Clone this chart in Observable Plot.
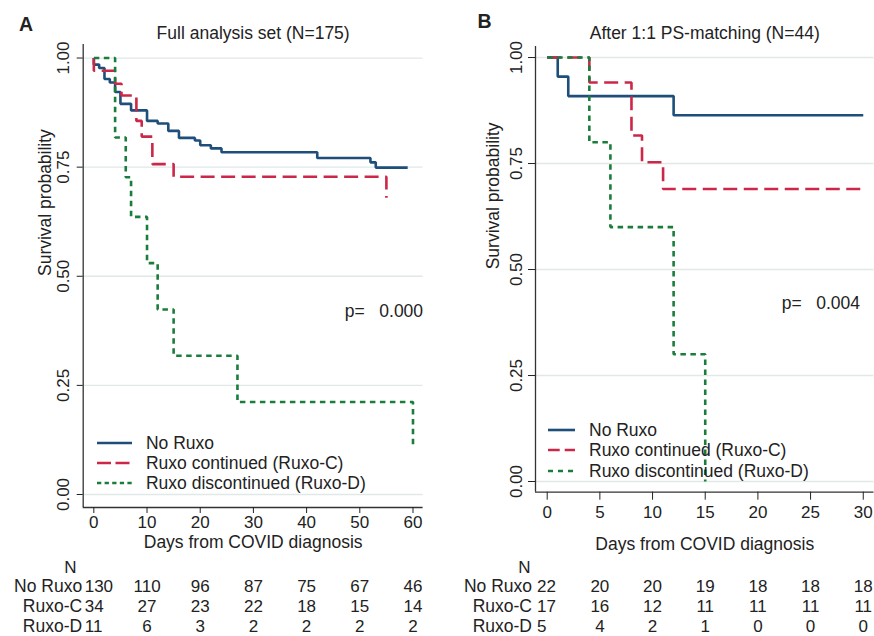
<!DOCTYPE html>
<html><head><meta charset="utf-8">
<script src="https://cdn.jsdelivr.net/npm/d3@7"></script>
<script src="https://cdn.jsdelivr.net/npm/@observablehq/plot@0.6"></script>
<style>
html,body{margin:0;padding:0;background:#fff;}
#wrap{position:relative;width:874px;height:636px;font-family:"Liberation Sans",Arial,sans-serif;color:#222;overflow:hidden}
.panel{position:absolute}
.leg{position:absolute;font-size:17.5px;line-height:20px;white-space:nowrap;color:#222}
.leg svg{position:absolute;top:0}
</style></head><body><div id="wrap"></div>
<script>
// ---------- data ----------
const groups = ["No Ruxo", "Ruxo continued (Ruxo-C)", "Ruxo discontinued (Ruxo-D)"];
const tableLabels = ["No Ruxo", "Ruxo-C", "Ruxo-D"];
const yTicks = [0, 0.25, 0.5, 0.75, 1];
const xTitle = "Days from COVID diagnosis";
const yTitle = "Survival probability";

// Panel A
const titleA = "Full analysis set (N=175)";
const pA = "0.000";
const xTicksA = [0, 10, 20, 30, 40, 50, 60];
const noRuxoA_t = [0, 0, 1, 2, 3, 4, 5, 7, 10, 12, 14, 16, 19, 20, 22, 24, 42, 52, 53, 59];
const noRuxoA_s = [1, 0.985, 0.977, 0.952, 0.944, 0.922, 0.895, 0.880, 0.856, 0.850, 0.833, 0.817, 0.811, 0.800, 0.793, 0.784, 0.771, 0.761, 0.749, 0.749];
const ruxoCA_t = [0, 0, 4, 5.2, 8, 9, 11, 15, 55];
const ruxoCA_s = [1, 0.971, 0.941, 0.914, 0.856, 0.820, 0.757, 0.728, 0.680];
const ruxoDA_t = [0, 4, 6, 7, 10, 12, 15, 27, 60];
const ruxoDA_s = [1, 0.818, 0.727, 0.636, 0.530, 0.424, 0.318, 0.212, 0.106];
const riskTimesA = [0, 10, 20, 30, 40, 50, 60];
const riskNoRuxoA = [130, 110, 96, 87, 75, 67, 46];
const riskRuxoCA = [34, 27, 23, 22, 18, 15, 14];
const riskRuxoDA = [11, 6, 3, 2, 2, 2, 2];

// Panel B
const titleB = "After 1:1 PS-matching (N=44)";
const pB = "0.004";
const xTicksB = [0, 5, 10, 15, 20, 25, 30];
const noRuxoB_t = [0, 1, 2, 12, 30];
const noRuxoB_s = [1, 0.955, 0.909, 0.864, 0.864];
const ruxoCB_t = [0, 4, 8, 9, 11, 30];
const ruxoCB_s = [1, 0.941, 0.816, 0.753, 0.690, 0.690];
const ruxoDB_t = [0, 4, 6, 12, 15];
const ruxoDB_s = [1, 0.8, 0.6, 0.3, 0];
const riskTimesB = [0, 5, 10, 15, 20, 25, 30];
const riskNoRuxoB = [22, 20, 20, 19, 18, 18, 18];
const riskRuxoCB = [17, 16, 12, 11, 11, 11, 11];
const riskRuxoDB = [5, 4, 2, 1, 0, 0, 0];

// ---------- styling ----------
const FONT = "'Liberation Sans', Arial, sans-serif";
const colors = ["#1d4f7a", "#cc2749", "#1b7d3b"];
const dashes = [null, "14,6.5", "5.5,4.5"];

const cfgA = {
  left: 0, letter: "A", title: titleA, p: pA, xTicks: xTicksA,
  xDomain: [-2.0, 61.9], yDomain: [-0.0298, 1.031],
  ml: 82.7, mr: 14.4, mt: 44, mb: 43,
  tickX: 6, padX: 2, tickY: 6, padY: 8,
  titleDy: -10.7, letterDx: -57.2, letterDy: -20, xTitleDy: 35, yTitleDx: -37.7,
  pDx: 0, pDy: 35.5, nDx: -12.7, labelDx: -1,
  series: [[noRuxoA_t, noRuxoA_s], [ruxoCA_t, ruxoCA_s], [ruxoDA_t, ruxoDA_s]],
  riskTimes: riskTimesA, risk: [riskNoRuxoA, riskRuxoCA, riskRuxoDA],
  legend: {x1: 96.7, x2: 131.7, tx: 146, rows: [443.3, 463.3, 483.3], dashes: [null, "14,4.5", "4.3,3.3"]}
};
const cfgB = {
  left: 437, letter: "B", title: titleB, p: pB, xTicks: xTicksB,
  xDomain: [-1.11, 31.02], yDomain: [-0.0252, 1.026],
  ml: 98, mr: 0.5, mt: 46, mb: 58.3,
  tickX: 8, padX: 6, tickY: 7, padY: 7,
  titleDy: -13, letterDx: -51, letterDy: -24.3, xTitleDy: 52.3, yTitleDx: -42,
  pDx: -14, pDy: 34, nDx: -11, labelDx: -3.5,
  series: [[noRuxoB_t, noRuxoB_s], [ruxoCB_t, ruxoCB_s], [ruxoDB_t, ruxoDB_s]],
  riskTimes: riskTimesB, risk: [riskNoRuxoB, riskRuxoCB, riskRuxoDB],
  legend: {x1: 548, x2: 575, tx: 589, rows: [430, 450, 470.7], dashes: [null, "11.7,5", "5,5"]}
};

const baseStyle = {fontFamily: FONT, fontSize: "17px", color: "#222", background: "transparent", overflow: "visible"};

function curvePlot(cfg) {
  const data = cfg.series.map(([ts, ss], i) => ts.map((t, j) => ({t, s: ss[j], g: groups[i]})));
  const curveMarks = data.map((d, i) => Plot.line(d, {
    x: "t", y: "s", curve: "step-after", stroke: colors[i], strokeWidth: 2.6,
    strokeDasharray: dashes[i] || undefined, strokeLinecap: "butt", strokeLinejoin: "miter"
  }));
  return Plot.plot({
    width: 437, height: 550,
    marginLeft: cfg.ml, marginRight: cfg.mr, marginTop: cfg.mt, marginBottom: cfg.mb,
    x: {domain: cfg.xDomain, label: null},
    y: {domain: cfg.yDomain, label: null},
    style: baseStyle,
    marks: [
      Plot.ruleY(yTicks, {stroke: "#e1e8e8", strokeWidth: 1.3}),
      Plot.ruleX([cfg.xDomain[0]], {stroke: "#333", strokeWidth: 1.3}),
      Plot.ruleY([cfg.yDomain[0]], {stroke: "#333", strokeWidth: 1.3}),
      Plot.axisX({ticks: cfg.xTicks, tickSize: cfg.tickX, tickPadding: cfg.padX, tickFormat: d => String(d), fontSize: 17, label: null}),
      Plot.axisY({ticks: yTicks, tickSize: cfg.tickY, tickPadding: cfg.padY, tickRotate: -90, tickFormat: d3.format(".2f"), fontSize: 17, label: null}),
      ...curveMarks,
      Plot.text([cfg.title], {text: d => d, frameAnchor: "top", lineAnchor: "middle", dy: cfg.titleDy, fontSize: 17.5}),
      Plot.text([cfg.letter], {text: d => d, frameAnchor: "top-left", lineAnchor: "middle", textAnchor: "middle", dx: cfg.letterDx, dy: cfg.letterDy, fontSize: 19.5, fontWeight: "bold"}),
      Plot.text([xTitle], {text: d => d, frameAnchor: "bottom", lineAnchor: "middle", dy: cfg.xTitleDy, fontSize: 17.5}),
      Plot.text([yTitle], {text: d => d, frameAnchor: "left", lineAnchor: "middle", rotate: -90, dx: cfg.yTitleDx, fontSize: 17.5}),
      Plot.text([cfg.p], {text: d => "p=\u00a0\u00a0\u00a0" + d, frameAnchor: "right", lineAnchor: "middle", textAnchor: "end", dx: cfg.pDx, dy: cfg.pDy, fontSize: 17.5})
    ]
  });
}

function tablePlot(cfg) {
  const rows = [];
  cfg.risk.forEach((vals, i) => vals.forEach((v, j) => rows.push({t: cfg.riskTimes[j], row: tableLabels[i], n: v, first: j === 0})));
  return Plot.plot({
    width: 437, height: 86,
    marginLeft: cfg.ml, marginRight: cfg.mr, marginTop: 36, marginBottom: 9.5,
    x: {domain: cfg.xDomain, axis: null},
    y: {type: "point", domain: tableLabels, padding: 0, axis: null},
    style: baseStyle,
    marks: [
      Plot.text(rows.filter(d => !d.first), {x: "t", y: "row", text: d => String(d.n), fontSize: 17}),
      Plot.text(rows.filter(d => d.first), {y: "row", text: d => String(d.n), frameAnchor: "left", textAnchor: "start", dx: 1.5, fontSize: 17}),
      Plot.text(tableLabels, {y: d => d, text: d => d, frameAnchor: "left", textAnchor: "end", dx: cfg.labelDx, fontSize: 17.5}),
      Plot.text(["N"], {text: d => d, frameAnchor: "top-left", lineAnchor: "middle", textAnchor: "middle", dx: cfg.nDx, dy: -18.5, fontSize: 17})
    ]
  });
}

function legend(cfg) {
  const L = cfg.legend;
  const box = document.createElement("div");
  groups.forEach((g, i) => {
    const row = document.createElement("div");
    row.className = "leg";
    row.style.left = (L.x1 - cfg.left) + "px";
    row.style.top = (L.rows[i] - 10) + "px";
    row.style.height = "20px";
    const w = L.x2 - L.x1;
    row.innerHTML = `<svg width="${w}" height="20" style="left:0"><line x1="0" x2="${w}" y1="10" y2="10" stroke="${colors[i]}" stroke-width="2.6" ${L.dashes[i] ? `stroke-dasharray="${L.dashes[i]}"` : ""}/></svg><span style="position:absolute;left:${L.tx - L.x1}px;top:0">${g}</span>`;
    box.appendChild(row);
  });
  return box;
}

const wrap = document.getElementById("wrap");
for (const cfg of [cfgA, cfgB]) {
  const p = document.createElement("div");
  p.className = "panel";
  p.style.left = cfg.left + "px"; p.style.top = "0px";
  p.style.width = "437px"; p.style.height = "550px";
  p.appendChild(curvePlot(cfg));
  p.appendChild(legend(cfg));
  wrap.appendChild(p);
  const t = document.createElement("div");
  t.className = "panel";
  t.style.left = cfg.left + "px"; t.style.top = "550px";
  t.appendChild(tablePlot(cfg));
  wrap.appendChild(t);
}
</script></body></html>
